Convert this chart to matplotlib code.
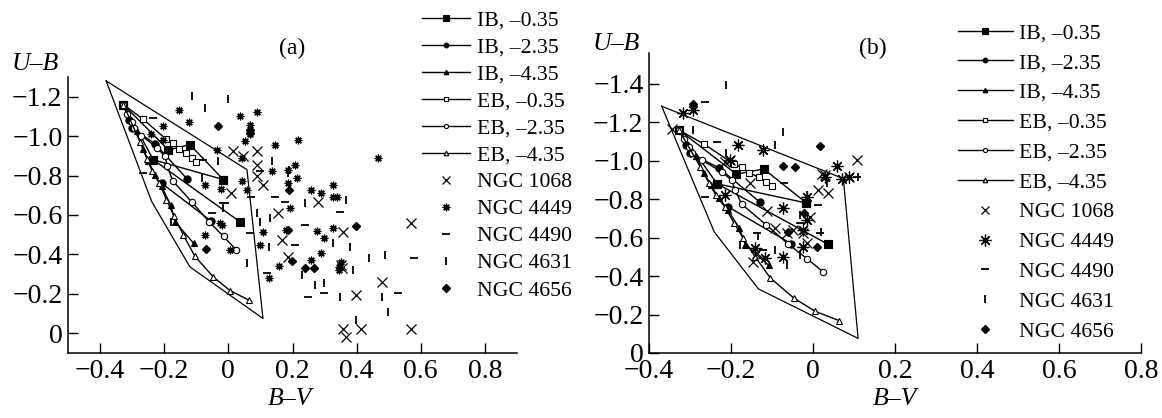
import matplotlib.pyplot as plt
import numpy as np
from matplotlib.lines import Line2D
from matplotlib.ticker import FuncFormatter, MultipleLocator

plt.rcParams['font.family'] = ['Liberation Serif', 'DejaVu Serif']

nan = np.nan

# ---- model tracks (same in both panels); NaN breaks a line ----
ib035_x = [-0.327, -0.187, -0.12, -0.016, nan, -0.327, -0.234, 0.036, nan, -0.234, -0.016]
ib035_y = [-1.16, -0.93, -0.957, -0.78, nan, -1.16, -0.88, -0.566, nan, -0.88, -0.78]
ib235_x = [-0.327, -0.31, -0.30, -0.229, -0.13, nan, -0.207, -0.053]
ib235_y = [-1.16, -1.08, -1.04, -0.962, -0.785, nan, -0.76, -0.568]
ib435_x = [-0.327, -0.286, -0.265, -0.25, -0.229, -0.208, -0.18, -0.165, -0.108]
ib435_y = [-1.16, -1.025, -0.935, -0.875, -0.804, -0.745, -0.651, -0.563, -0.456]
eb035_x = [-0.327, -0.265, -0.193, -0.174, -0.155, -0.132, -0.114, -0.100]
eb035_y = [-1.16, -1.085, -0.983, -0.965, -0.937, -0.913, -0.888, -0.867]
eb235_x = [-0.327, -0.315, -0.302, -0.294, -0.271, -0.223, -0.198, -0.19, -0.174, -0.114, -0.06, -0.015, 0.025]
eb235_y = [-1.16, -1.113, -1.073, -1.04, -1.003, -0.942, -0.898, -0.847, -0.774, -0.666, -0.566, -0.491, -0.422]
eb435_x = [-0.327, -0.275, -0.254, -0.237, -0.215, -0.193, -0.17, -0.141, -0.104, -0.047, 0.005, 0.064]
eb435_y = [-1.16, -0.968, -0.885, -0.821, -0.76, -0.677, -0.596, -0.5, -0.39, -0.286, -0.217, -0.168]

# ---- envelopes ----
poly_a_x = [-0.381, 0.058, 0.108, -0.12, -0.239, -0.381]
poly_a_y = [-1.28, -0.83, -0.075, -0.337, -0.668, -1.28]
poly_b_x = [-0.369, 0.074, 0.110, -0.133, -0.241, -0.369]
poly_b_y = [-1.283, -0.907, -0.076, -0.333, -0.63, -1.283]

# ---- observations, panel (a) ----
a1068_x = [0.015, 0.046, 0.088, 0.088, 0.088, 0.108, 0.008, 0.155, 0.167, 0.186, 0.279, 0.357,
           0.35, 0.355, 0.399, 0.357, 0.368, 0.414, 0.48, 0.57, 0.57]
a1068_y = [-0.923, -0.897, -0.923, -0.855, -0.796, -0.753, -0.711, -0.609, -0.473, -0.388, -0.668, -0.516,
           -0.346, -0.33, -0.193, -0.024, 0.019, -0.02, -0.261, -0.558, -0.024]
a4449_x = [-0.153, -0.122, -0.205, -0.241, -0.203, -0.073, -0.023, -0.036, 0.036, 0.088, 0.067, 0.067,
           0.051, 0.042, 0.041, 0.057, 0.145, 0.217, 0.137, 0.186, 0.207, 0.215, 0.186, 0.191, 0.259,
           0.288, 0.326, 0.325, 0.338, 0.108, 0.098, 0.127, 0.158, 0.181, 0.277, 0.298, 0.326, 0.259,
           0.288, 0.345, 0.35, 0.345, 0.466, -0.026, 0.005, -0.072, -0.021]
a4449_y = [-1.135, -1.07, -1.05, -1.013, -0.982, -0.753, -0.731, -0.931, -1.101, -1.123, -1.055, -1.01,
           -0.974, -0.89, -0.77, -0.728, -0.953, -0.982, -0.821, -0.83, -0.852, -0.787, -0.762, -0.635, -0.728,
           -0.711, -0.753, -0.689, -0.69, -0.516, -0.448, -0.278, -0.343, -0.524, -0.519, -0.485, -0.533, -0.371,
           -0.406, -0.338, -0.36, -0.32, -0.889, -0.558, -0.422, -0.499, -0.55]
a4490_x = [-0.234, -0.265, -0.078, -0.011, -0.052, 0.07, 0.098, 0.145, 0.176, 0.067, 0.119, 0.209,
           0.238, 0.347, 0.248, 0.298, 0.578, 0.528, -0.016]
a4490_y = [-1.093, -0.813, -0.88, -0.663, -0.609, -0.689, -0.821, -0.689, -0.668, -0.507, -0.304, -0.448,
           -0.55, -0.617, -0.185, -0.202, -0.38, -0.202, -0.66]
a4631_x = [-0.114, -0.073, -0.002, -0.032, -0.081, 0.057, 0.088, 0.098, 0.129, 0.127, 0.137, 0.186,
           0.238, 0.368, 0.326, 0.378, 0.23, 0.388, 0.269, 0.298, 0.347, 0.399, 0.437, 0.487, 0.48,
           0.497, -0.179, -0.016, 0.189]
a4631_y = [-1.203, -1.143, -1.186, -0.872, -0.787, -0.355, -0.609, -0.566, -0.587, -0.439, -0.875, -0.813,
           -0.66, -0.677, -0.456, -0.439, -0.295, -0.321, -0.244, -0.253, -0.185, -0.066, -0.38, -0.397, -0.185,
           -0.108, -0.566, -0.635, -0.83]
a4656_x = [-0.032, 0.067, 0.069, -0.071, 0.188, 0.186, 0.197, 0.238, 0.267, 0.399]
a4656_y = [-1.053, -1.033, -1.015, -0.426, -0.728, -0.524, -0.367, -0.329, -0.329, -0.546]

# ---- observations, panel (b) ----
b1068_x = [-0.345, -0.215, -0.202, -0.154, -0.113, -0.137, -0.146, -0.048, -0.093, -0.064, 0.108, 0.021,
           0.029, 0.088, 0.037, 0.013, -0.007, -0.024, -0.015]
b1068_y = [-1.167, -0.994, -1.003, -0.882, -0.739, -0.518, -0.474, -0.639, -0.648, -0.622, -1.006, -0.933,
           -0.925, -0.914, -0.833, -0.847, -0.708, -0.622, -0.573]
b4449_x = [-0.292, -0.316, -0.182, -0.121, -0.202, -0.215, -0.072, -0.141, -0.117, -0.072, 0.058, 0.029,
           0.07, 0.088, -0.015, -0.015, -0.024, -0.024]
b4449_y = [-1.262, -1.248, -1.081, -1.055, -1.003, -0.821, -0.752, -0.544, -0.492, -0.497, -0.971, -0.916,
           -0.907, -0.914, -0.812, -0.691, -0.639, -0.549]
b4490_x = [-0.263, -0.235, -0.263, -0.137, -0.121, -0.07, 0.011, -0.032, 0.017, 0.107]
b4490_y = [-1.306, -1.098, -0.812, -0.622, -0.535, -0.882, -0.769, -0.674, -0.626, -0.916]
b4631_x = [-0.212, -0.293, -0.212, -0.093, -0.072, -0.178, -0.133, -0.093, -0.064, -0.032, 0.035,
           0.11, 0.019, -0.032, -0.015]
b4631_y = [-1.392, -1.162, -1.04, -1.081, -1.147, -0.561, -0.61, -0.535, -0.457, -0.509, -0.882,
           -0.916, -0.63, -0.717, -0.821]
b4656_x = [-0.292, 0.017, -0.072, -0.044, -0.021, -0.062, 0.009]
b4656_y = [-1.297, -1.075, -0.971, -0.965, -0.726, -0.629, -0.549]

track_labels = ['IB, –0.35', 'IB, –2.35', 'IB, –4.35', 'EB, –0.35', 'EB, –2.35', 'EB, –4.35']
obs_labels = ['NGC 1068', 'NGC 4449', 'NGC 4490', 'NGC 4631', 'NGC 4656']

tracks = [(ib035_x, ib035_y, 's', 'k', 5.8), (ib235_x, ib235_y, 'o', 'k', 5.2),
          (ib435_x, ib435_y, '^', 'k', 5.0), (eb035_x, eb035_y, 's', 'w', 4.2),
          (eb235_x, eb235_y, 'o', 'w', 4.6), (eb435_x, eb435_y, '^', 'w', 5.0)]

star = (8, 2, 0)


def fmt(v, pos):
    if abs(v) < 1e-9:
        return '0'
    return f'{v:.1f}'.replace('-', '\u2212')


def draw_panel(ax, poly_x, poly_y, obs, star_size, cross_size):
    ax.plot(poly_x, poly_y, color='k', lw=0.9)
    for tx, ty, m, fc, ms in tracks:
        ax.plot(tx, ty, color='k', lw=1.0, marker=m, ms=ms, mfc=fc, mec='k', mew=0.8)
    (x1, y1), (x2, y2), (x3, y3), (x4, y4), (x5, y5) = obs
    ax.plot(x1, y1, ls='none', marker='x', ms=cross_size, color='k', mew=0.9)
    ax.plot(x2, y2, ls='none', marker=star, ms=star_size, color='k', mew=0.9)
    ax.plot(x3, y3, ls='none', marker='_', ms=6, color='k', mew=1.3)
    ax.plot(x4, y4, ls='none', marker='|', ms=6, color='k', mew=1.3)
    ax.plot(x5, y5, ls='none', marker='D', ms=4.0, color='k')
    for s in ['top', 'right']:
        ax.spines[s].set_visible(False)
    for s in ['left', 'bottom']:
        ax.spines[s].set_linewidth(1.1)
    ax.xaxis.set_major_locator(MultipleLocator(0.2))
    ax.yaxis.set_major_locator(MultipleLocator(0.2))
    ax.xaxis.set_major_formatter(FuncFormatter(fmt))
    ax.yaxis.set_major_formatter(FuncFormatter(fmt))
    ax.tick_params(direction='in', length=7, width=1.0, labelsize=20)
    ax.tick_params(axis='y', pad=4)
    ax.tick_params(axis='x', pad=4)


def legend_handles(star_size, cross_size):
    hs = []
    for tx, ty, m, fc, ms in tracks:
        hs.append(Line2D([], [], color='k', lw=1.0, marker=m, ms=ms * 0.65, mfc=fc, mec='k', mew=0.8))
    hs.append(Line2D([], [], ls='none', marker='x', ms=cross_size * 0.75, color='k', mew=0.9))
    hs.append(Line2D([], [], ls='none', marker=star, ms=star_size, color='k', mew=0.9))
    hs.append(Line2D([], [], ls='none', marker='_', ms=6, color='k', mew=1.3))
    hs.append(Line2D([], [], ls='none', marker='|', ms=6, color='k', mew=1.3))
    hs.append(Line2D([], [], ls='none', marker='D', ms=4.0, color='k'))
    return hs


fig = plt.figure(figsize=(11.62, 4.18), dpi=100)

ax_a = fig.add_axes([68 / 1162, 65 / 418, 449 / 1162, 276 / 418])
draw_panel(ax_a, poly_a_x, poly_a_y,
           [(a1068_x, a1068_y), (a4449_x, a4449_y), (a4490_x, a4490_y),
            (a4631_x, a4631_y), (a4656_x, a4656_y)], 5.5, 7.5)
ax_a.set_xlim(-0.5, 0.9)
ax_a.set_ylim(0.1, -1.3)
ax_a.set_yticks(np.arange(-1.2, 0.01, 0.2))

ax_b = fig.add_axes([649 / 1162, 65 / 418, 492 / 1162, 300 / 418])
draw_panel(ax_b, poly_b_x, poly_b_y,
           [(b1068_x, b1068_y), (b4449_x, b4449_y), (b4490_x, b4490_y),
            (b4631_x, b4631_y), (b4656_x, b4656_y)], 8.5, 7.0)
ax_b.set_xlim(-0.4, 0.8)
ax_b.set_ylim(0, -1.56)
ax_b.set_xticks(np.arange(-0.4, 0.81, 0.2))
ax_b.set_yticks(np.arange(-1.4, 0.01, 0.2))

labels = track_labels + obs_labels
fig.legend(legend_handles(5.5, 7.5), labels, loc='upper left',
           bbox_to_anchor=(422 / 1162, 1 - 10 / 418), frameon=False, fontsize=15.7,
           borderpad=0, borderaxespad=0, handlelength=2.2, handletextpad=0.32,
           labelspacing=0.31)
fig.legend(legend_handles(8.5, 7.0), labels, loc='upper left',
           bbox_to_anchor=(958 / 1162, 1 - 23 / 418), frameon=False, fontsize=15.7,
           borderpad=0, borderaxespad=0, handlelength=2.5, handletextpad=0.28,
           labelspacing=0.44)

fig.text(292 / 1162, 1 - 48 / 418, '(a)', fontsize=17, ha='center', va='center')
fig.text(873 / 1162, 1 - 48 / 418, '(b)', fontsize=17, ha='center', va='center')
fig.text(12 / 1162, 1 - 64 / 418, 'U–B', fontsize=18.5, style='italic', ha='left', va='center')
fig.text(593 / 1162, 1 - 44 / 418, 'U–B', fontsize=18.5, style='italic', ha='left', va='center')
fig.text(290 / 1162, 1 - 399 / 418, 'B–V', fontsize=18.5, style='italic', ha='center', va='center')
fig.text(895 / 1162, 1 - 399 / 418, 'B–V', fontsize=18.5, style='italic', ha='center', va='center')

fig.savefig('out.png', dpi=100)
